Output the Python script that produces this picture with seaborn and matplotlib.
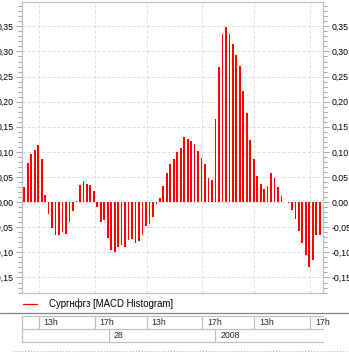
import numpy as np
import pandas as pd
import matplotlib
matplotlib.use("Agg")
import matplotlib.pyplot as plt
import matplotlib.transforms as mtransforms
from matplotlib.lines import Line2D
from matplotlib.ticker import MultipleLocator, FuncFormatter
import seaborn as sns

# ---------------- data ----------------
values = [
    0.031, 0.077, 0.095, 0.103, 0.113, 0.085, 0.015, -0.024, -0.052, -0.066, -0.066,
    -0.060, -0.064, -0.040, -0.018, 0.002, 0.035, 0.043, 0.037, 0.035, 0.023, -0.010,
    -0.040, -0.036, -0.072, -0.096, -0.100, -0.090, -0.086, -0.090, -0.076, -0.074, -0.082,
    -0.078, -0.066, -0.048, -0.044, -0.030, -0.004, 0.009, 0.033, 0.059, 0.075, 0.085,
    0.099, 0.107, 0.129, 0.125, 0.121, 0.115, 0.101, 0.087, 0.075, 0.049, 0.045,
    0.165, 0.269, 0.335, 0.349, 0.335, 0.315, 0.293, 0.271, 0.221, 0.177,
    0.123, 0.085, 0.053, 0.037, 0.027, 0.033, 0.059, 0.049, 0.031, 0.013, 0.000,
    -0.002, -0.015, -0.034, -0.058, -0.082, -0.106, -0.130, -0.116, -0.066, -0.066,
]
bar_index = list(range(len(values)))
hour_ticks = [4.1, 20.2, 35.2, 51.2, 66.2, 82.2]
hour_labels = ["13h", "17h", "13h", "17h", "13h", "17h"]
day_ticks = [24.3, 54.9]
day_labels = ["28", "2008"]
series_name = "Сургнфгз [MACD Histogram]"

# ---------------- style ----------------
sns.set_theme(style="white")
plt.rcParams["font.family"] = ["Liberation Sans", "DejaVu Sans"]

W, H = 349, 352
fig = plt.figure(figsize=(W / 100, H / 100), dpi=100)
fig.patch.set_facecolor("white")


def px(l, t, r, b):
    return [l / W, 1 - b / H, (r - l) / W, (b - t) / H]


ax = fig.add_axes(px(22.3, 2, 322.7, 293.3))
df = pd.DataFrame({"i": bar_index, "v": values})
sns.barplot(data=df, x="i", y="v", native_scale=True, color="red", saturation=1,
            width=0.5, errorbar=None, linewidth=0, ax=ax)
for p in ax.patches:
    p.set_antialiased(False)

ax.set_xlim(-0.575, 85.85)
ax.set_ylim(-0.1815, 0.3985)
ax.set_xlabel("")
ax.set_ylabel("")
ax.set_facecolor("white")

ax.yaxis.set_major_locator(MultipleLocator(0.05))
ax.yaxis.set_minor_locator(MultipleLocator(0.01))
ax.yaxis.set_major_formatter(FuncFormatter(
    lambda v, p: ("%.2f" % (0.0 if abs(v) < 1e-9 else v)).replace(".", ",")))
ax.tick_params(axis="y", which="both", left=True, right=True, labelleft=True,
               labelright=True, direction="out", color="#a8a8a8", width=0.72,
               labelsize=6.3, labelcolor="black", pad=2.0)
ax.tick_params(axis="y", which="major", length=4.3)
ax.tick_params(axis="y", which="minor", length=2.9)
ax.set_xticks(hour_ticks)
ax.set_xticklabels([])
ax.tick_params(axis="x", which="both", length=0, bottom=False)

ax.set_axisbelow(True)
ax.grid(True, which="major", axis="both", color="#dcdcdc",
        linestyle=(0, (3, 2)), linewidth=0.72)
for s in ax.spines.values():
    s.set_color("#c0c0c0")
    s.set_linewidth(0.9)

# ---------------- legend row ----------------
def fig_line(x0, x1, y0, y1, **kw):
    fig.add_artist(Line2D([x0 / W, x1 / W], [1 - y0 / H, 1 - y1 / H],
                          transform=fig.transFigure, **kw))

fig_line(22.7, 37.3, 304, 304, color="red", linewidth=0.9)
fig.text(48.7 / W, 1 - 304 / H, series_name, fontsize=6.9, va="center", ha="left",
         color="black")
fig_line(0, 349, 313.3, 313.3, color="#808080", linewidth=0.9)
fig_line(13, 349, 351.3, 351.3, color="#b0b0b0", linewidth=0.7, linestyle=(0, (1, 2)))

# ---------------- time axis table ----------------
tax = fig.add_axes(px(22.3, 316, 322.7, 341.7))
tax.set_xlim(ax.get_xlim())
tax.set_ylim(341.7, 316)
tax.axis("off")
bc = "#c0c0c0"
for yy in (316, 328.7, 341.7):
    tax.plot(list(ax.get_xlim()), [yy, yy], color=bc, lw=0.9, clip_on=False)
x0 = ax.get_xlim()[0]
for xx in [x0] + hour_ticks:
    tax.plot([xx, xx], [316, 328.7], color=bc, lw=0.9, clip_on=False)
for xx in [x0] + day_ticks:
    tax.plot([xx, xx], [328.7, 341.7], color=bc, lw=0.9, clip_on=False)
off = mtransforms.offset_copy(tax.transData, fig=fig, x=5, y=0, units="dots")
for xx, lab in zip(hour_ticks, hour_labels):
    tax.text(xx, 322.6, lab, transform=off, fontsize=6.3, va="center", ha="left",
             clip_on=False)
for xx, lab in zip(day_ticks, day_labels):
    tax.text(xx, 335.4, lab, transform=off, fontsize=6.3, va="center", ha="left",
             clip_on=False)

fig.savefig("out.png", dpi=100, facecolor="white")
